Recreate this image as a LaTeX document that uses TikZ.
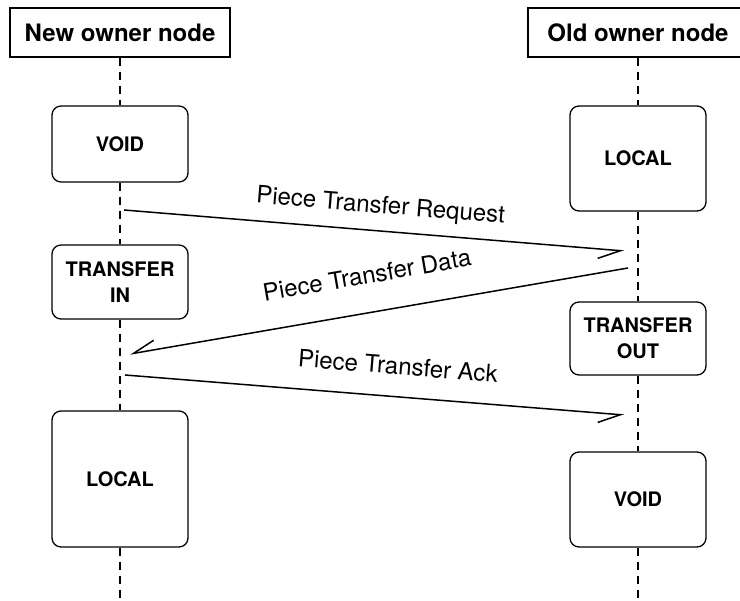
\documentclass[tikz,border=0pt]{standalone}
\usepackage{fontspec}
\setmainfont{TeX Gyre Heros}
\usetikzlibrary{arrows.meta}

\tikzset{
  lifehead/.style={draw, line width=1.3pt, minimum width=220pt, minimum height=49pt, inner sep=0pt, font=\fontsize{24}{28}\selectfont\bfseries},
  phase/.style={draw, rounded corners=9pt, line width=1.3pt, minimum width=136pt, inner sep=0pt, align=center, font=\fontsize{20}{26}\selectfont\bfseries},
  lifeline/.style={line width=1.5pt, dash pattern=on 8pt off 6pt},
  msgline/.style={line width=1.5pt, -{Straight Barb[harpoon,swap,length=22pt,width=19pt]}},
  msg/.style={font=\fontsize{24}{28}\selectfont, inner sep=0pt}
}

\begin{document}
\begin{tikzpicture}[x=1pt, y=-1pt]
        \useasboundingbox (0,0) rectangle (740,601);
        \clip (0,0) rectangle (740,601);
        \node[lifehead] (newHead) at (120,32.5) {New owner node};
        \node[lifehead] (oldHead) at (638,32.5) {Old owner node};

        \node[phase, minimum height=76pt] (newVoid) at (120,144) {VOID};
        \node[phase, minimum height=74pt] (newIn) at (120,282) {TRANSFER\\IN};
        \node[phase, minimum height=136pt] (newLocal) at (120,479) {LOCAL};
        \node[phase, minimum height=105pt] (oldLocal) at (638,158.5) {LOCAL};
        \node[phase, minimum height=73pt] (oldOut) at (638,338.5) {TRANSFER\\OUT};
        \node[phase, minimum height=95pt] (oldVoid) at (638,499.5) {VOID};

        \coordinate (newEnd) at (120,601);
        \coordinate (oldEnd) at (638,601);
        \draw[lifeline] (newHead) -- (newVoid);
        \draw[lifeline] (newVoid) -- (newIn);
        \draw[lifeline] (newIn) -- (newLocal);
        \draw[lifeline] (newLocal) -- (newEnd);
        \draw[lifeline] (oldHead) -- (oldLocal);
        \draw[lifeline] (oldLocal) -- (oldOut);
        \draw[lifeline] (oldOut) -- (oldVoid);
        \draw[lifeline] (oldVoid) -- (oldEnd);

        \coordinate (reqFrom) at (124,210);
        \coordinate (reqTo) at (624,251);
        \coordinate (dataFrom) at (628,268);
        \coordinate (dataTo) at (130,354);
        \coordinate (ackFrom) at (125,375);
        \coordinate (ackTo) at (624,415);
        \draw[msgline] (reqFrom) -- (reqTo);
        \draw[msgline] (dataFrom) -- (dataTo);
        \draw[msgline] (ackFrom) -- (ackTo);

        \node[msg, rotate=-4.7] (reqLabel) at (380.5,207) {Piece Transfer Request};
        \node[msg, rotate=9.8] (dataLabel) at (367,275) {Piece Transfer Data};
        \node[msg, rotate=-4.6] (ackLabel) at (398,366) {Piece Transfer Ack};
\end{tikzpicture}
\end{document}
